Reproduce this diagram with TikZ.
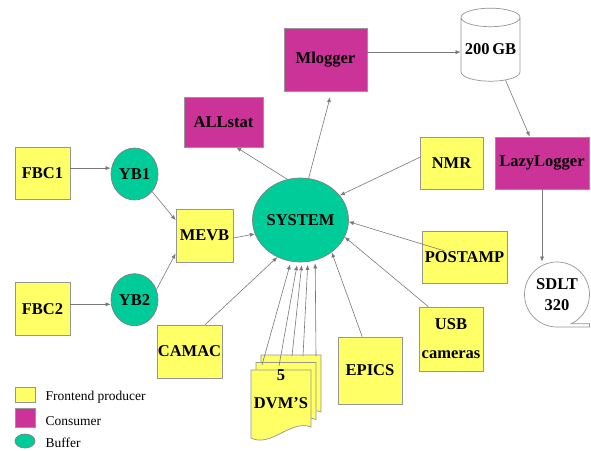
\documentclass[tikz,border=0pt]{standalone}
\usepackage{fontspec}
\setmainfont{Liberation Serif}
\usepackage{tikz}
\usetikzlibrary{shapes.geometric, shapes.symbols, arrows.meta, positioning, calc}
\definecolor{amarillo}{RGB}{255,255,102}
\definecolor{purpura}{RGB}{204,51,153}
\definecolor{verde}{RGB}{0,204,153}
\definecolor{borde}{RGB}{150,150,150}
\definecolor{linea}{RGB}{120,120,120}

\begin{document}
\begin{tikzpicture}[
  x=1pt, y=-1pt,
  caja/.style={
    rectangle, draw=borde, line width=0.7pt, inner sep=0pt,
    font=\fontsize{16.5}{18}\selectfont\bfseries, align=center
  },
  productor/.style={caja, fill=amarillo},
  consumidor/.style={caja, fill=purpura},
  buffer/.style={caja, ellipse, fill=verde, draw=gray},
  almacen/.style={caja, fill=white},
  rel/.style={draw=linea, line width=0.6pt, -{Latex[length=5pt,width=4pt]}},
  leyenda/.style={font=\fontsize{13.5}{15}\selectfont, inner sep=0pt}
]

\fill[white] (0,0) rectangle (591,450);
\useasboundingbox (0,0) rectangle (591,450);

% ── NODOS ────────────────────────────────────────────────────

\node[productor, minimum width=55pt, minimum height=52pt] (fbc1) at (42.5,173) {FBC1};
\node[productor, minimum width=55pt, minimum height=53pt, below=83pt of fbc1] (fbc2) {FBC2};

\node[buffer, minimum width=47pt, minimum height=52pt] (yb1) at (134.5,174) {YB1};
\node[buffer, minimum width=47pt, minimum height=52pt, below=73pt of yb1] (yb2) {YB2};

\node[productor, minimum width=57pt, minimum height=53pt] (mevb) at (204.5,235.5) {MEVB};

\node[buffer, minimum width=75pt, minimum height=84pt] (system) at (300.5,220) {SYSTEM};

\node[consumidor, minimum width=79pt, minimum height=50pt] (allstat) at (223.5,122) {ALLstat};
\node[consumidor, minimum width=83pt, minimum height=63pt] (mlogger) at (325.5,59.5) {Mlogger};

\node[almacen, cylinder, shape border rotate=90, aspect=0.36,
      minimum width=59pt, minimum height=73pt] (disco) at (490.5,49.5) {200\,GB};

\node[productor, minimum width=63pt, minimum height=52pt] (nmr) at (451.5,163) {NMR};
\node[consumidor, minimum width=94pt, minimum height=52pt] (lazylogger) at (542,163) {LazyLogger};

\node[almacen, magnetic tape, minimum size=65pt, magnetic tape tail extend=0pt,
      magnetic tape tail=0.1] (sdlt) at (557,294.5) {SDLT\\[3pt]320};

\node[productor, minimum width=85pt, minimum height=52pt] (postamp) at (464.5,257) {POSTAMP};
\node[productor, minimum width=64pt, minimum height=64pt] (usb) at (451,339) {USB\\[11pt]cameras};
\node[productor, minimum width=64pt, minimum height=67pt] (epics) at (370,370.5) {EPICS};
\node[productor, minimum width=65pt, minimum height=53pt] (camac) at (189.5,351.5) {CAMAC};

% hojas de los 5 DVM
\foreach \dx/\dy in {10/-15, 5/-7.5, 0/0}
  \draw[draw=borde, line width=0.7pt, fill=amarillo, shift={(\dx,\dy)}]
    (251,370) -- (311,370) -- (311,427)
    .. controls (291,419) and (271,448) .. (251,438) -- cycle;
\node[caja, draw=none] (dvm) at (281,389) {5\\[10pt]DVM'S};
\coordinate (d1) at (262,365);
\coordinate (d2) at (279,366);
\coordinate (d3) at (292,356);
\coordinate (d4) at (303,356);
\coordinate (d5) at (316,356);

% ── LEYENDA ──────────────────────────────────────────────────

\node[productor, minimum width=20pt, minimum height=15pt] (ley_prod) at (25,394.5) {};
\node[consumidor, minimum width=20pt, minimum height=19pt] (ley_cons) at (25,417.5) {};
\node[buffer, minimum width=20pt, minimum height=14pt] (ley_buf) at (25,441) {};
\node[leyenda, right=10pt of ley_prod, yshift=-2.5pt] (ley_prod_t) {Frontend producer};
\node[leyenda, right=10pt of ley_cons, yshift=-4pt] (ley_cons_t) {Consumer};
\node[leyenda, right=10pt of ley_buf, yshift=-1.5pt] (ley_buf_t) {Buffer};

% ── RELACIONES ───────────────────────────────────────────────

% fbc1 -> yb1
\draw[rel] (fbc1.10) -- (fbc1.10 -| yb1.west);
% fbc2 -> yb2
\draw[rel] (fbc2.10) -- (fbc2.10 -| yb2.west);
% yb1 -> mevb
\draw[rel] (yb1.-45) -- (mevb.152);
% yb2 -> mevb
\draw[rel] (yb2.25) -- (mevb.212);
% mevb -> system
\draw[rel] (mevb.-5) -- (system.197);
% system -> allstat
\draw[rel] (system.108) -- (allstat.-63);
% system -> mlogger
\draw[rel, shorten >=6pt] (system.79) -- (mlogger.-79);
% mlogger -> 200 GB
\draw[rel] (mlogger.10) -- (mlogger.10 -| disco.west);
% 200 GB -> lazylogger
\draw[rel] (disco.-64) -- (lazylogger.115);
% lazylogger -> sdlt
\draw[rel] (lazylogger.south) -- (lazylogger.south |- sdlt.north);
% nmr -> system
\draw[rel] (nmr.170) -- (system.32);
% postamp -> system
\draw[rel] ($(postamp.center)!21pt!(system.-2)$) -- (system.-2);
% usb -> system
\draw[rel] (usb.125) -- (system.-21);
% epics -> system
\draw[rel] (epics.103) -- (system.-46);
% camac -> system
\draw[rel] (camac.60) -- (system.238);
% dvm -> system
\foreach \i/\a in {1/257, 2/266, 3/272, 4/280, 5/290}
  \draw[rel, shorten >=3pt] (d\i) -- (system.\a);

\end{tikzpicture}
\end{document}
